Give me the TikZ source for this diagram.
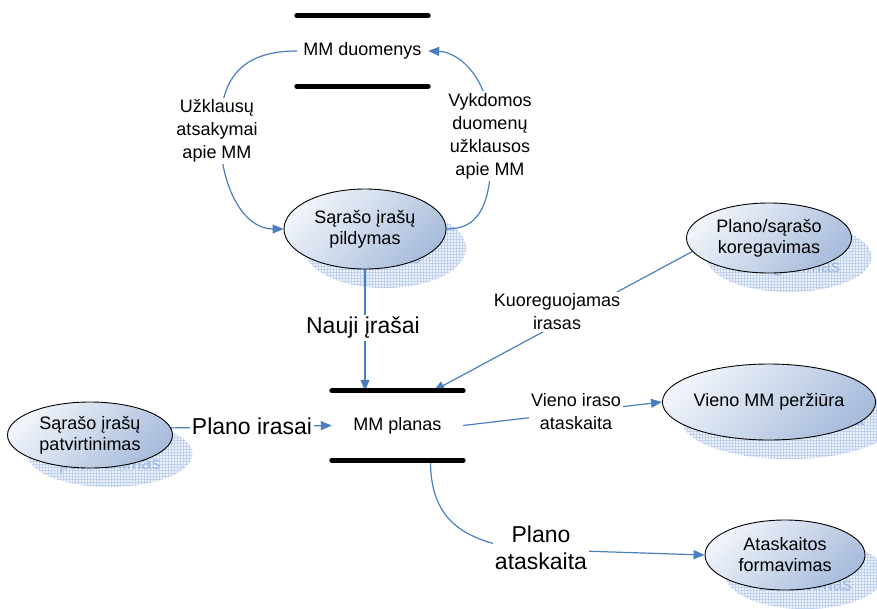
\documentclass[tikz,border=0pt]{standalone}
\usepackage{fontspec}
\setmainfont{Liberation Sans}
\usetikzlibrary{shapes.geometric,arrows.meta,patterns,backgrounds,calc}
\definecolor{conblue}{RGB}{74,126,193}
\definecolor{elltop}{RGB}{240,244,250}
\definecolor{ellbot}{RGB}{168,188,220}
\definecolor{shline}{RGB}{192,210,238}
\definecolor{shfill}{RGB}{236,241,250}
\definecolor{ghost}{RGB}{158,184,224}
\begin{document}
\begin{tikzpicture}[x=1pt,y=-1pt,
  proc/.style={ellipse, draw=black, line width=0.9pt, inner sep=0pt, align=center,
    top color=elltop, bottom color=ellbot, shading angle=45,
    font=\fontsize{18}{21}\selectfont},
  procsh/.style={ellipse, inner sep=0pt, align=center, text=ghost,
    preaction={fill=shfill}, pattern=grid, pattern color=shline,
    font=\fontsize{18}{21}\selectfont},
  store/.style={minimum width=131pt, minimum height=70pt, inner sep=0pt,
    font=\fontsize{18}{22}\selectfont},
  bar/.style={line width=5pt, line cap=round},
  lbl/.style={fill=white, inner sep=2pt, align=center, font=\fontsize{18}{23}\selectfont},
  biglbl/.style={fill=white, inner sep=2pt, align=center, font=\fontsize{23}{27}\selectfont},
  conn/.style={draw=conblue, line width=1.2pt, -{Triangle[length=11pt,width=9pt]}},
]
\useasboundingbox (0,0) rectangle (877,608);

% data stores
\node[store] (duom) at (362.5,51) {MM duomenys};
\draw[bar] (duom.north west) -- (duom.north east);
\draw[bar] (duom.south west) -- (duom.south east);
\node[store, minimum height=69pt] (planas) at (397.5,425.5) {MM planas};
\draw[bar] (planas.north west) -- (planas.north east);
\draw[bar] (planas.south west) -- (planas.south east);

% processes
\node[proc, minimum width=162pt, minimum height=80pt] (pild) at (365,229) {Sąrašo įrašų\\pildymas};
\node[proc, minimum width=165pt, minimum height=70pt] (koreg) at (769,238) {Plano/sąrašo\\koregavimas};
\node[proc, minimum width=165pt, minimum height=66pt] (patv) at (90,435) {Sąrašo įrašų\\patvirtinimas};
\node[proc, minimum width=162pt, minimum height=76pt] (vieno) at (769,402) {Vieno MM peržiūra};
\node[proc, minimum width=160pt, minimum height=70pt] (atask) at (785,555) {Ataskaitos\\formavimas};

% labels
\node[lbl] (q1) at (217,131) {Užklausų\\atsakymai\\apie MM};
\node[lbl] (q2) at (490,136) {Vykdomos\\duomenų\\užklausos\\apie MM};
\node[biglbl] (l3) at (363,328) {Nauji įrašai};
\node[lbl] (l4) at (557,312) {Kuoreguojamas\\irasas};
\node[biglbl] (l5) at (252,426) {Plano irasai};
\node[lbl] (l6) at (576,412) {Vieno iraso\\ataskaita};
\node[biglbl] (l7) at (541,548) {Plano\\ataskaita};

\begin{scope}[on background layer]
  % shadows
  \node[procsh, minimum width=162pt, minimum height=80pt] (pildsh) at ($(pild)+(20,19)$) {Sąrašo įrašų\\pildymas};
  \node[procsh, minimum width=165pt, minimum height=70pt] (koregsh) at ($(koreg)+(20,19)$) {Plano/sąrašo\\koregavimas};
  \node[procsh, minimum width=165pt, minimum height=66pt] (patvsh) at ($(patv)+(20,19)$) {Sąrašo įrašų\\patvirtinimas};
  \node[procsh, minimum width=162pt, minimum height=76pt] (vienosh) at ($(vieno)+(20,19)$) {Vieno MM peržiūra};
  \node[procsh, minimum width=160pt, minimum height=70pt] (ataskSh) at ($(atask)+(20,19)$) {Ataskaitos\\formavimas};

  % connectors
  \coordinate (lc) at (220,131);
  \coordinate (rc) at (492,140);
  \draw[conn] (duom.west) .. controls (240,51) and (220,80) .. (lc)
     .. controls (220,190) and (245,229) .. (pild.west);
  \draw[conn] (pild.east) .. controls (480,229) and (492,205) .. (rc)
     .. controls (492,80) and (460,52) .. (duom.east);
  \draw[conn] (pild.south) -- (pild.south |- planas.north);
  \draw[conn] (koreg.190) -- ($(planas.north)+(36,0)$);
  \draw[conn] (patv.5) -- (planas.west);
  \draw[conn] (planas.east) -- (vieno.west);
  \coordinate (ac) at (520,549);
  \draw[conn] ($(planas.south)+(33,0)$) .. controls (430,525) and (470,541) .. (ac) -- (atask.west);
\end{scope}
\end{tikzpicture}
\end{document}
